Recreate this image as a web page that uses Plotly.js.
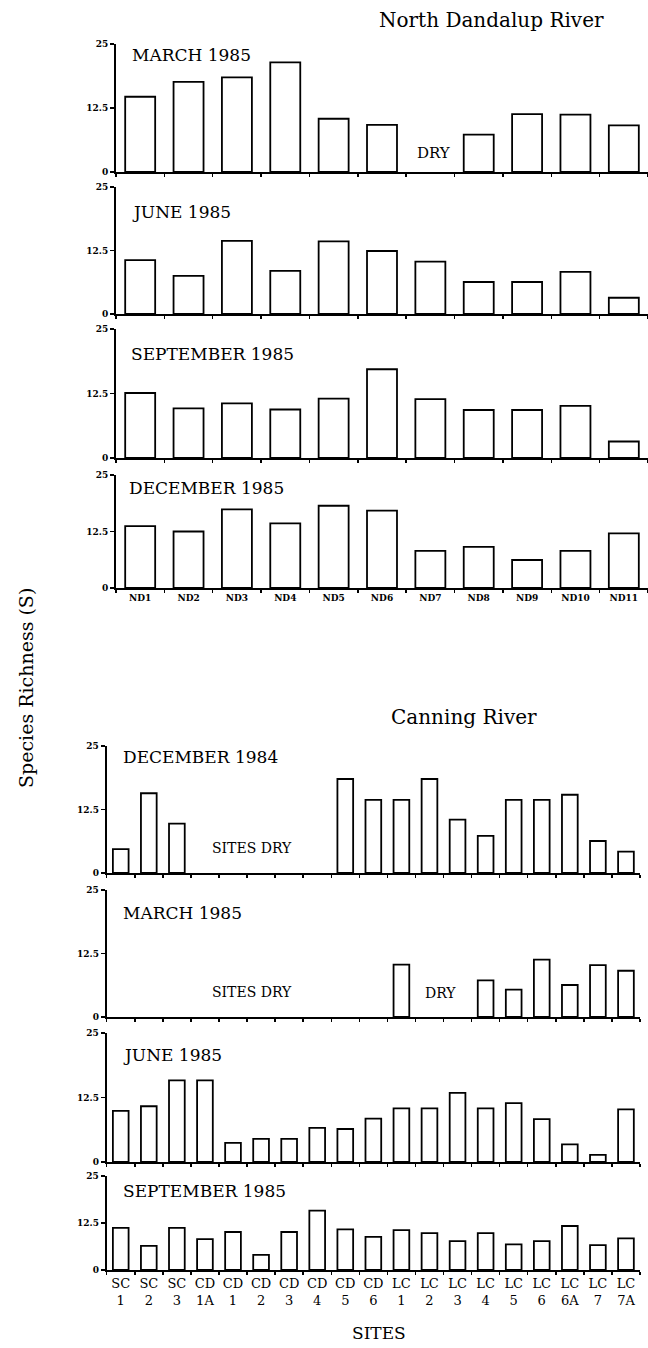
<!DOCTYPE html>
<html>
<head>
<meta charset="utf-8">
<script src="https://cdn.plot.ly/plotly-3.0.1.min.js"></script>
<style>
html,body{margin:0;padding:0;background:#fff;}
#chart{width:648px;height:1348px;}
</style>
</head>
<body>
<div id="chart"></div>
<script>
// ---------------- DATA ----------------
var ndSites = ["ND1","ND2","ND3","ND4","ND5","ND6","ND7","ND8","ND9","ND10","ND11"];
var ndMarch1985 = [14.7, 17.6, 18.5, 21.4, 10.4, 9.2, null, 7.3, 11.3, 11.2, 9.1];
var ndJune1985  = [10.6, 7.5, 14.4, 8.5, 14.3, 12.4, 10.3, 6.3, 6.3, 8.3, 3.2];
var ndSept1985  = [12.6, 9.6, 10.6, 9.4, 11.5, 17.2, 11.4, 9.3, 9.3, 10.1, 3.2];
var ndDec1985   = [13.7, 12.5, 17.4, 14.3, 18.2, 17.1, 8.2, 9.1, 6.2, 8.2, 12.1];

var cSites = ["SC1","SC2","SC3","CD1A","CD1","CD2","CD3","CD4","CD5","CD6",
              "LC1","LC2","LC3","LC4","LC5","LC6","LC6A","LC7","LC7A"];
var cSiteLabels = ["SC<br>1","SC<br>2","SC<br>3","CD<br>1A","CD<br>1","CD<br>2","CD<br>3","CD<br>4","CD<br>5","CD<br>6",
                   "LC<br>1","LC<br>2","LC<br>3","LC<br>4","LC<br>5","LC<br>6","LC<br>6A","LC<br>7","LC<br>7A"];
var cDec1984  = [4.7, 15.7, 9.7, null, null, null, null, null, 18.5, 14.4, 14.4, 18.5, 10.5, 7.3, 14.4, 14.4, 15.4, 6.3, 4.2];
var cMarch1985 = [null, null, null, null, null, null, null, null, null, null, 10.3, null, null, 7.2, 5.4, 11.3, 6.3, 10.2, 9.1];
var cJune1985 = [9.9, 10.8, 15.8, 15.8, 3.7, 4.5, 4.5, 6.6, 6.4, 8.4, 10.4, 10.4, 13.4, 10.4, 11.4, 8.3, 3.4, 1.4, 10.2];
var cSept1985 = [11.2, 6.4, 11.2, 8.2, 10.1, 4.0, 10.1, 15.8, 10.8, 8.8, 10.6, 9.8, 7.7, 9.8, 6.8, 7.7, 11.7, 6.6, 8.4];

var yTickVals = [0, 12.5, 25];
var yTickText = ["0", "12.5", "25"];

var ndPanelNames = ["MARCH 1985", "JUNE 1985", "SEPTEMBER 1985", "DECEMBER 1985"];
var cPanelNames = ["DECEMBER 1984", "MARCH 1985", "JUNE 1985", "SEPTEMBER 1985"];

// ---------------- LAYOUT HELPERS ----------------
var W = 648, H = 1348;
function fx(px){ return px / W; }
function fy(py){ return 1 - py / H; }

var SERIF = "DejaVu Serif, serif";

var ndSeries = [ndMarch1985, ndJune1985, ndSept1985, ndDec1985];
var cSeries = [cDec1984, cMarch1985, cJune1985, cSept1985];

// pixel positions (top of 25, bottom at 0) for each panel
var ndPanelsPx = [[44,172],[187,314],[329,458],[475,588]];
var cPanelsPx  = [[746,873],[890,1017],[1033,1162],[1176,1270]];
var ndXpx = [116, 648];
var cXpx = [106.7, 640];

var traces = [];
var layout = {
  width: W, height: H,
  margin: {l:0, r:0, t:0, b:0},
  paper_bgcolor: "#fff", plot_bgcolor: "rgba(0,0,0,0)",
  showlegend: false,
  font: {family: SERIF, color: "#000"},
  annotations: []
};

function axisBase(){
  return {
    showline: true, linecolor: "#000", linewidth: 2,
    showgrid: false, zeroline: false,
    ticks: "outside", ticklen: 3, tickwidth: 1.5, tickcolor: "#000",
    fixedrange: true
  };
}

function addPanel(idx, cats, vals, xpx, ypx, barWidth, showLabels, tickLabels, tickFont){
  var n = idx === 1 ? "" : String(idx);
  var xa = "x" + n, ya = "y" + n;
  traces.push({
    type: "bar", x: cats, y: vals, xaxis: xa, yaxis: ya,
    width: barWidth,
    marker: {color: "#ffffff", line: {color: "#000", width: 1.8}},
    hoverinfo: "x+y"
  });
  var xax = axisBase();
  xax.domain = [fx(xpx[0]), fx(xpx[1])];
  xax.anchor = ya;
  xax.type = "category";
  xax.categoryorder = "array";
  xax.categoryarray = cats;
  xax.range = [-0.5, cats.length - 0.5];
  xax.tickson = "boundaries";
  xax.tickmode = "array";
  xax.tickvals = cats;
  xax.ticktext = tickLabels;
  xax.showticklabels = showLabels;
  xax.tickfont = tickFont;
  xax.tickangle = 0;
  var yax = axisBase();
  yax.domain = [fy(ypx[1]), fy(ypx[0])];
  yax.anchor = xa;
  yax.range = [0, 25];
  yax.tickmode = "array";
  yax.tickvals = yTickVals;
  yax.ticktext = yTickText;
  yax.ticklen = 4;
  yax.tickfont = {family: SERIF, size: 9, color: "#000", weight: 700};
  layout["xaxis" + n] = xax;
  layout["yaxis" + n] = yax;
}

for (var i = 0; i < 4; i++){
  addPanel(i + 1, ndSites, ndSeries[i], ndXpx, ndPanelsPx[i], 0.62, i === 3, ndSites,
           {family: SERIF, size: 9, color: "#000", weight: 700});
  addPanel(i + 5, cSites, cSeries[i], cXpx, cPanelsPx[i], 0.56, i === 3, cSiteLabels,
           {family: SERIF, size: 13, color: "#000"});
}

function ann(text, px, py, size, xanchor, extra){
  var a = {
    text: text, xref: "paper", yref: "paper",
    x: fx(px), y: fy(py), xanchor: xanchor || "center", yanchor: "middle",
    showarrow: false, font: {family: SERIF, size: size, color: "#000"}
  };
  if (extra) for (var k in extra) a[k] = extra[k];
  layout.annotations.push(a);
}

ann("North Dandalup River", 491, 20, 20);
ann("Canning River", 464, 717, 20);

var ndLabelPos = [[130,55],[130,212],[129,354],[127,488]];
var cLabelPos = [[121,757],[121,913],[121,1055],[121,1191]];
for (var j = 0; j < 4; j++){
  ann(ndPanelNames[j], ndLabelPos[j][0], ndLabelPos[j][1], 17, "left");
  ann(cPanelNames[j], cLabelPos[j][0], cLabelPos[j][1], 17, "left");
}

ann("DRY", 434, 153, 15);
ann("SITES DRY", 252, 848, 14);
ann("SITES DRY", 252, 992, 14);
ann("DRY", 440, 993, 14);

ann("SITES", 379, 1333, 17);
ann("Species Richness (S)", 26, 688, 19, "center", {textangle: -90});

Plotly.newPlot("chart", traces, layout, {displayModeBar: false, staticPlot: true});
</script>
</body>
</html>
